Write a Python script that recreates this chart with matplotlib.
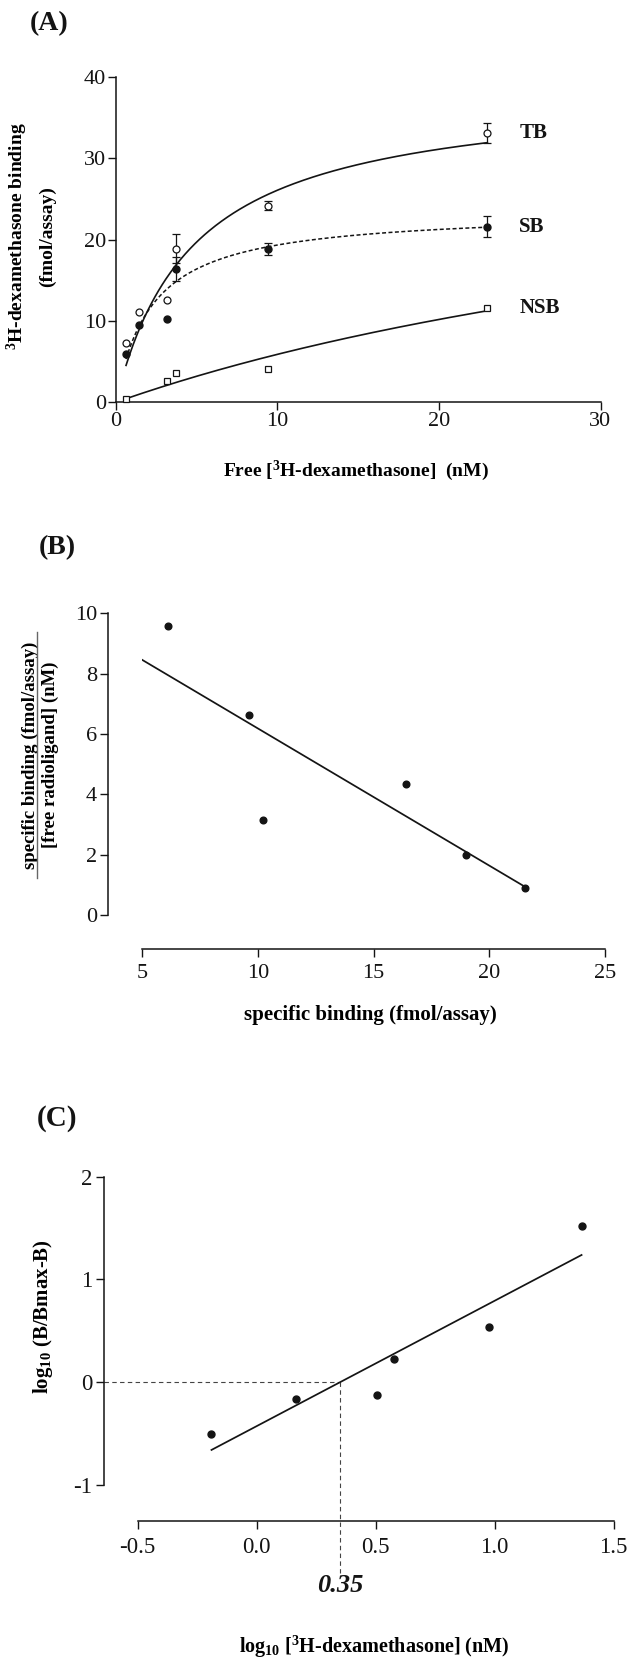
import matplotlib
matplotlib.use("Agg")
import matplotlib.pyplot as plt
import numpy as np
from matplotlib.lines import Line2D

# ---------------------------------------------------------------------------
# Data
# ---------------------------------------------------------------------------
# (A) saturation binding of [3H]-dexamethasone
free_nM = [0.64, 1.46, 3.2, 3.75, 9.4, 23.0]
total_binding = [7.3, 11.15, 12.6, 18.9, 24.2, 33.1]
total_sem = [0.0, 0.0, 0.0, 1.75, 0.5, 1.2]
specific_binding = [6.0, 9.5, 10.25, 16.4, 18.85, 21.6]
specific_sem = [0.0, 0.0, 0.0, 1.45, 0.7, 1.27]
nsb_free_nM = [0.64, 3.2, 3.75, 9.4, 23.0]
nonspecific_binding = [0.4, 2.62, 3.6, 4.14, 11.64]
curve_names = ["TB", "SB", "NSB"]

# one-site hyperbola fits: B = Bmax * F / (Kd + F)
tb_bmax, tb_kd = 38.6, 4.8
sb_bmax, sb_kd = 23.6, 2.2
nsb_bmax, nsb_kd = 37.5, 53.6

# (B) Scatchard transformation
scatchard_bound = [6.1, 9.6, 10.2, 16.4, 19.0, 21.55]
scatchard_ratio = [9.59, 6.62, 3.15, 4.35, 1.98, 0.89]

# (C) Hill plot
hill_log_free = [-0.19, 0.165, 0.505, 0.575, 0.975, 1.365]
hill_log_ratio = [-0.50, -0.16, -0.125, 0.225, 0.54, 1.525]
hill_slope = 1.22
hill_log_kd = 0.35

# tick labels
a_xticks = [0, 10, 20, 30]
a_yticks = [0, 10, 20, 30, 40]
b_xticks = [5, 10, 15, 20, 25]
b_yticks = [0, 2, 4, 6, 8, 10]
c_xticks = [-0.5, 0.0, 0.5, 1.0, 1.5]
c_xticklabels = ["-0.5", "0.0", "0.5", "1.0", "1.5"]
c_yticks = [-1, 0, 1, 2]

# ---------------------------------------------------------------------------
# Style
# ---------------------------------------------------------------------------
W, H = 628, 1660
INK = "#141414"
plt.rcParams.update({
    "font.family": ["Liberation Serif", "DejaVu Serif"],
    "mathtext.fontset": "custom",
    "mathtext.rm": "Liberation Serif",
    "mathtext.bf": "Liberation Serif:bold",
    "mathtext.it": "Liberation Serif:italic",
    "mathtext.default": "bf",
    "axes.unicode_minus": False,
    "axes.linewidth": 1.1,
    "axes.edgecolor": INK,
    "xtick.color": INK,
    "ytick.color": INK,
    "xtick.major.width": 1.0,
    "ytick.major.width": 1.0,
    "xtick.major.size": 5.5,
    "ytick.major.size": 5.5,
    "xtick.direction": "out",
    "ytick.direction": "out",
    "text.color": INK,
})

fig = plt.figure(figsize=(W / 100, H / 100), dpi=100)
fig.patch.set_facecolor("white")


def axes_px(left, right, top, bottom):
    """Create axes from a pixel box (origin top-left)."""
    return fig.add_axes([left / W, 1 - bottom / H, (right - left) / W, (bottom - top) / H])


def prism_style(ax, tick_size, xpad, ypad):
    for side in ("top", "right"):
        ax.spines[side].set_visible(False)
    ax.tick_params(axis="x", labelsize=tick_size, pad=xpad)
    ax.tick_params(axis="y", labelsize=tick_size, pad=ypad)
    ax.patch.set_alpha(0)


PANEL_KW = dict(fontweight="bold", ha="center", va="center")

# ---------------------------------------------------------------------------
# (A) Saturation binding
# ---------------------------------------------------------------------------
axA = axes_px(115.7, 600.5, 77.1, 402.3)
prism_style(axA, 16, 1.5, 1.5)
axA.set_xlim(0, 30)
axA.set_ylim(0, 40)
axA.set_xticks(a_xticks)
axA.set_yticks(a_yticks)

f = np.asarray(free_nM)
fit_x = np.linspace(f.min(), f.max(), 300)
axA.plot(fit_x, tb_bmax * fit_x / (tb_kd + fit_x), color=INK, lw=1.2, zorder=2)
axA.plot(fit_x, sb_bmax * fit_x / (sb_kd + fit_x), color=INK, lw=1.1,
         ls=(0, (2.6, 1.6)), zorder=2)
nsb_x = np.linspace(min(nsb_free_nM), max(nsb_free_nM), 300)
axA.plot(nsb_x, nsb_bmax * nsb_x / (nsb_kd + nsb_x), color=INK, lw=1.2, zorder=2)

tb = np.asarray(total_binding)
tb_e = np.asarray(total_sem)
sb = np.asarray(specific_binding)
sb_e = np.asarray(specific_sem)
m_tb = tb_e > 0
m_sb = sb_e > 0
err_kw = dict(fmt="none", ecolor=INK, elinewidth=0.9, capsize=3, capthick=0.9, zorder=3)
axA.errorbar(f[m_tb], tb[m_tb], yerr=tb_e[m_tb], **err_kw)
axA.errorbar(f[m_sb], sb[m_sb], yerr=sb_e[m_sb], **err_kw)

axA.plot(f, tb, ls="none", marker="o", ms=5, mfc="white", mec=INK, mew=0.9,
         zorder=4, clip_on=False)
axA.plot(f, sb, ls="none", marker="o", ms=5, mfc=INK, mec=INK, zorder=5, clip_on=False)
axA.plot(nsb_free_nM, nonspecific_binding, ls="none", marker="s", ms=4.6, mfc="white",
         mec=INK, mew=0.9, zorder=4, clip_on=False)

for name, xv, yv in zip(curve_names,
                        [free_nM[-1], free_nM[-1], nsb_free_nM[-1]],
                        [total_binding[-1], specific_binding[-1], nonspecific_binding[-1]]):
    axA.annotate(name, xy=(xv, yv), xytext=(23, 0), textcoords="offset points",
                 ha="left", va="center", fontsize=15, fontweight="bold")

axA.set_xlabel(r"Free [$^{3}$H-dexamethasone]  (nM)", va="center",
               fontsize=14, fontweight="bold")
axA.xaxis.set_label_coords(0.496, -0.21)
axA.set_ylabel("$^{3}$H-dexamethasone binding\n(fmol/assay)", va="center",
               linespacing=1.65, fontsize=14, fontweight="bold")
axA.yaxis.set_label_coords(-0.175, 0.51)

fig.text(49 / W, 1 - 24 / H, "(A)", fontsize=20, **PANEL_KW)

# ---------------------------------------------------------------------------
# (B) Scatchard plot
# ---------------------------------------------------------------------------
axB = axes_px(142.3, 605.0, 613.3, 915.0)
prism_style(axB, 16, 5.5, 2.6)
axB.set_xlim(5, 25)
axB.set_ylim(0, 10)
axB.set_xticks(b_xticks)
axB.set_yticks(b_yticks)
axB.spines["left"].set_position(("outward", 24.5))
axB.spines["bottom"].set_position(("outward", 24.5))

line_x = np.array([b_xticks[0], max(scatchard_bound)])
axB.plot(line_x, sb_bmax / sb_kd - line_x / sb_kd, color=INK, lw=1.25, zorder=2)
axB.plot(scatchard_bound, scatchard_ratio, ls="none", marker="o", ms=4.8,
         color=INK, zorder=3, clip_on=False)

axB.set_xlabel("specific binding (fmol/assay)", va="center",
               fontsize=15, fontweight="bold")
axB.xaxis.set_label_coords(0.492, -0.332)
axB.set_ylabel("specific binding (fmol/assay)\n[free radioligand] (nM)",
               va="center", linespacing=1.2, fontsize=13.5, fontweight="bold")
axB.yaxis.set_label_coords(-0.221, 0.53)
# fraction bar between numerator and denominator
fig.add_artist(Line2D([37 / W, 37 / W], [1 - 632 / H, 1 - 878 / H],
                      color="#666666", lw=1.0))

fig.text(57 / W, 1 - 548 / H, "(B)", fontsize=20, **PANEL_KW)

# ---------------------------------------------------------------------------
# (C) Hill plot
# ---------------------------------------------------------------------------
axC = axes_px(137.7, 613.7, 1176.7, 1485.0)
prism_style(axC, 16.5, 6, 3)
axC.set_xlim(-0.5, 1.5)
axC.set_ylim(-1, 2)
axC.set_xticks(c_xticks)
axC.set_xticklabels(c_xticklabels)
axC.set_yticks(c_yticks)
axC.spines["left"].set_position(("outward", 24))
axC.spines["bottom"].set_position(("outward", 26))

hx = np.array([min(hill_log_free), max(hill_log_free)])
axC.plot(hx, hill_slope * (hx - hill_log_kd), color=INK, lw=1.25, zorder=2)
axC.plot(hill_log_free, hill_log_ratio, ls="none", marker="o", ms=5,
         color=INK, zorder=3, clip_on=False)

# guide lines marking the half-occupancy point
inv = axC.transData.inverted()
x_spine = inv.transform(axC.transAxes.transform((0, 0)) - np.array([33.4, 0]))[0]
y_low = inv.transform(axC.transAxes.transform((0, 0)) - np.array([0, 88]))[1]
guide_kw = dict(color="#444444", lw=0.8, ls=(0, (4, 3)), clip_on=False, zorder=1)
axC.plot([x_spine, hill_log_kd], [0, 0], **guide_kw)
axC.plot([hill_log_kd, hill_log_kd], [0, y_low], **guide_kw)
axC.annotate(f"{hill_log_kd:.2f}", xy=(hill_log_kd, 0), xycoords=("data", "axes fraction"),
             xytext=(0, -72), textcoords="offset points", ha="center", va="center",
             fontsize=19, fontweight="bold", fontstyle="italic")

axC.set_xlabel(r"log$_{10}$ [$^{3}$H-dexamethasone] (nM)", va="center",
               fontsize=14.5, fontweight="bold")
axC.xaxis.set_label_coords(0.496, -0.525)
axC.set_ylabel(r"log$_{10}$ (B/Bmax-B)", va="center", fontsize=15, fontweight="bold")
axC.yaxis.set_label_coords(-0.199, 0.545)

fig.text(57 / W, 1 - 1118 / H, "(C)", fontsize=21, **PANEL_KW)

fig.savefig("out.png", dpi=100, facecolor="white")
